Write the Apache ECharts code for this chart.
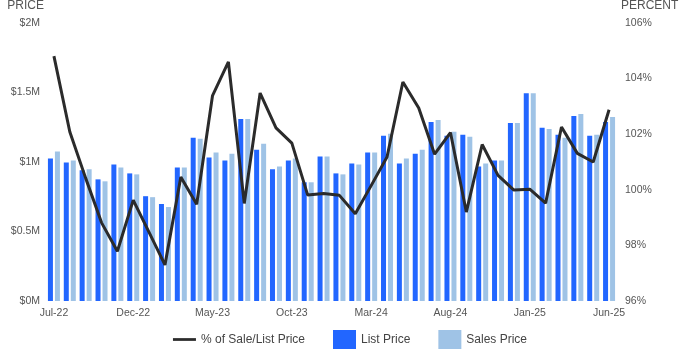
<!DOCTYPE html>
<html>
<head>
<meta charset="utf-8">
<script src="https://cdn.jsdelivr.net/npm/echarts@6/dist/echarts.min.js"></script>
<style>
  html, body { margin: 0; padding: 0; background: #fff; }
  #chart { width: 700px; height: 350px; }
</style>
</head>
<body>
<div id="chart"></div>
<script>
// Monthly categories, Jul-22 through Jun-25
const months = [
  'Jul-22','Aug-22','Sep-22','Oct-22','Nov-22','Dec-22',
  'Jan-23','Feb-23','Mar-23','Apr-23','May-23','Jun-23',
  'Jul-23','Aug-23','Sep-23','Oct-23','Nov-23','Dec-23',
  'Jan-24','Feb-24','Mar-24','Apr-24','May-24','Jun-24',
  'Jul-24','Aug-24','Sep-24','Oct-24','Nov-24','Dec-24',
  'Jan-25','Feb-25','Mar-25','Apr-25','May-25','Jun-25'
];

// Median list price (USD)
const listPrice = [
  1025000, 996000, 940000, 875000, 982000, 918000,
  754000, 698000, 961000, 1174000, 1032000, 1010000,
  1310000, 1089000, 947000, 1010000, 854000, 1039000,
  918000, 989000, 1068000, 1189000, 989000, 1060000,
  1288000, 1189000, 1196000, 968000, 1010000, 1281000,
  1495000, 1246000, 1196000, 1331000, 1189000, 1288000
];

// Median sales price (USD)
const salesPrice = [
  1075000, 1010000, 947000, 861000, 961000, 911000,
  747000, 676000, 961000, 1167000, 1068000, 1060000,
  1310000, 1132000, 968000, 1025000, 854000, 1039000,
  911000, 982000, 1068000, 1203000, 1025000, 1089000,
  1302000, 1217000, 1181000, 989000, 1010000, 1281000,
  1495000, 1238000, 1174000, 1345000, 1196000, 1324000
];

// Sale-to-list price ratio (%)
const saleToList = [
  104.81, 102.09, 100.42, 98.82, 97.79, 99.63,
  98.47, 97.30, 100.46, 99.48, 103.39, 104.60,
  99.51, 103.48, 102.23, 101.68, 99.81, 99.87,
  99.80, 99.14, 100.15, 101.18, 103.88, 102.94,
  101.28, 102.06, 99.20, 101.63, 100.52, 99.99,
  100.02, 99.52, 102.26, 101.31, 101.00, 102.88
];

const priceTicks = { 0: '$0M', 500000: '$0.5M', 1000000: '$1M', 1500000: '$1.5M', 2000000: '$2M' };

const FONT = '"Liberation Sans", Arial, sans-serif';
const LABEL_COLOR = '#555555';
const LINE_COLOR = '#2b2b2b';

const chart = echarts.init(document.getElementById('chart'), null, { renderer: 'canvas' });

chart.setOption({
  animation: false,
  textStyle: { fontFamily: FONT },
  grid: { left: 46, right: 83, top: 20, bottom: 49, containLabel: false },
  legend: {
    bottom: 1,
    left: 'center',
    padding: [0, 5],
    itemWidth: 23,
    itemHeight: 19,
    itemGap: 28,
    symbolKeepAspect: true,
    textStyle: { fontFamily: FONT, fontSize: 12, color: '#444444' },
    data: [
      { name: '% of Sale/List Price', icon: 'path://M0,0L25,0L25,3L0,3Z', itemStyle: { color: LINE_COLOR } },
      { name: 'List Price', icon: 'rect' },
      { name: 'Sales Price', icon: 'rect' }
    ]
  },
  xAxis: {
    type: 'category',
    data: months,
    boundaryGap: true,
    axisLine: { show: false },
    axisTick: { show: false },
    axisLabel: {
      interval: 4,
      color: LABEL_COLOR,
      fontFamily: FONT,
      fontSize: 10.5,
      margin: 7
    },
    splitLine: { show: false }
  },
  yAxis: [
    {
      type: 'value',
      min: 0,
      max: 2000000,
      interval: 500000,
      name: 'PRICE',
      nameLocation: 'end',
      nameGap: 11,
      nameTextStyle: { color: LABEL_COLOR, fontFamily: FONT, fontSize: 12, align: 'right', padding: [0, 2, 0, 0] },
      axisLine: { show: false },
      axisTick: { show: false },
      splitLine: { show: false },
      axisLabel: {
        color: LABEL_COLOR,
        fontFamily: FONT,
        fontSize: 10.5,
        margin: 6,
        formatter: v => priceTicks[v] || ''
      }
    },
    {
      type: 'value',
      min: 96,
      max: 106,
      interval: 2,
      name: 'PERCENT',
      nameLocation: 'end',
      nameGap: 11,
      nameTextStyle: { color: LABEL_COLOR, fontFamily: FONT, fontSize: 12, align: 'left', padding: [0, 0, 0, 4] },
      axisLine: { show: false },
      axisTick: { show: false },
      splitLine: { show: false },
      axisLabel: {
        color: LABEL_COLOR,
        fontFamily: FONT,
        fontSize: 10.5,
        margin: 8,
        formatter: '{value}%'
      }
    }
  ],
  series: [
    {
      name: 'List Price',
      type: 'bar',
      yAxisIndex: 0,
      data: listPrice,
      barWidth: 5,
      barGap: '40%',
      itemStyle: { color: '#2266ff' }
    },
    {
      name: 'Sales Price',
      type: 'bar',
      yAxisIndex: 0,
      data: salesPrice,
      barWidth: 5,
      itemStyle: { color: '#9fc3e6' }
    },
    {
      name: '% of Sale/List Price',
      type: 'line',
      yAxisIndex: 1,
      data: saleToList,
      symbol: 'none',
      z: 5,
      lineStyle: { color: LINE_COLOR, width: 3 },
      itemStyle: { color: LINE_COLOR }
    }
  ]
});
</script>
</body>
</html>
